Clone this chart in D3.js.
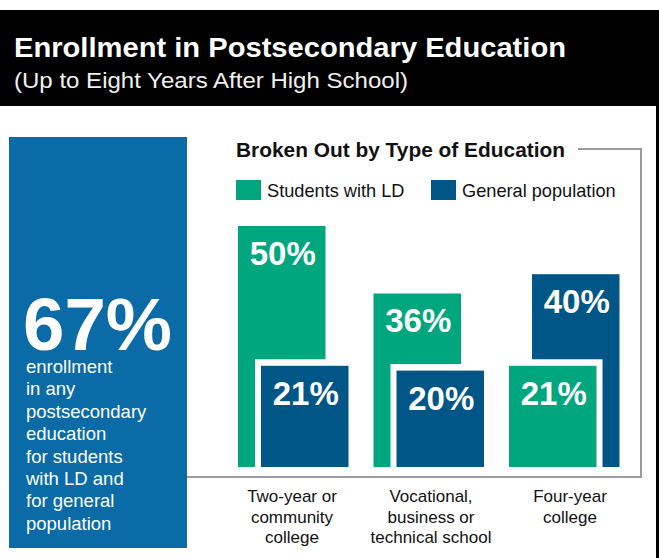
<!DOCTYPE html>
<html><head><meta charset="utf-8">
<script src="https://cdn.jsdelivr.net/npm/d3@7"></script>
<style>
html,body{margin:0;padding:0;background:#fff;}
svg{display:block;font-family:"Liberation Sans",Arial,Helvetica,sans-serif;}
</style></head>
<body><svg id="c" width="659" height="558"></svg>
<script>
// ---- data ----
const categories = ["Two-year or community college", "Vocational, business or technical school", "Four-year college"];
const categoryLines = [["Two-year or","community","college"],["Vocational,","business or","technical school"],["Four-year","college"]];
const seriesNames = ["Students with LD", "General population"];
const ldValues = [50, 36, 21];
const genValues = [21, 20, 40];
const overallValue = 67;
const overallLines = ["enrollment","in any","postsecondary","education","for students","with LD and","for general","population"];
const titleText = "Enrollment in Postsecondary Education";
const subtitleText = "(Up to Eight Years After High School)";
const sectionTitle = "Broken Out by Type of Education";

const GREEN = "#00a67d", BLUE = "#005686", PANEL = "#0a6ba6";

const svg = d3.select("#c");

// title band
svg.append("rect").attr("x",0).attr("y",10).attr("width",659).attr("height",96).attr("fill","#000");
svg.append("rect").attr("x",656).attr("y",106).attr("width",3).attr("height",452).attr("fill","#000");
svg.append("text").attr("x",14).attr("y",57).attr("fill","#fff").attr("font-weight","bold")
  .attr("font-size",28).attr("textLength",552).attr("lengthAdjust","spacingAndGlyphs").text(titleText);
svg.append("text").attr("x",14).attr("y",88).attr("fill","#f0f0f0")
  .attr("font-size",22).attr("textLength",394).attr("lengthAdjust","spacingAndGlyphs").text(subtitleText);

// left panel
svg.append("rect").attr("x",9).attr("y",137).attr("width",178).attr("height",411).attr("fill",PANEL);
svg.append("text").attr("x",23).attr("y",350).attr("fill","#fff").attr("font-weight","bold")
  .attr("font-size",75).attr("textLength",149).attr("lengthAdjust","spacingAndGlyphs").text(overallValue + "%");
svg.append("g").selectAll("text").data(overallLines).join("text")
  .attr("x",26).attr("y",(d,i)=>373 + i*22.4).attr("fill","#fff").attr("font-size",18.5).text(d=>d);

// connector line
svg.append("path").attr("d","M187,477H641V149H578").attr("fill","none").attr("stroke","#9c9c9c").attr("stroke-width",2);

// section title & legend
svg.append("text").attr("x",236).attr("y",157).attr("font-weight","bold").attr("font-size",19.5)
  .attr("fill","#111").attr("textLength",329).attr("lengthAdjust","spacingAndGlyphs").text(sectionTitle);
const legendX = [236, 431];
const legend = svg.append("g").selectAll("g").data(seriesNames).join("g")
  .attr("transform",(d,i)=>`translate(${legendX[i]},180)`);
legend.append("rect").attr("width",25).attr("height",20).attr("fill",(d,i)=>i===0?GREEN:BLUE);
legend.append("text").attr("x",31).attr("y",17).attr("font-size",18.2).attr("fill","#111").text(d=>d);

// scales
const y = d3.scaleLinear().domain([0, 50]).range([467, 226]);
const x = d3.scalePoint().domain(categories).range([293.5, 564.5]);
const xLabel = d3.scalePoint().domain(categories).range([292, 570]);
const barW = 87.5;
const offset = {ld: -55.5, gen: -32.5};

const data = categories.map((c,i)=>({cat:c, bars:[
  {key:"ld", v:ldValues[i], color:GREEN},
  {key:"gen", v:genValues[i], color:BLUE}
]}));

const groups = svg.append("g").selectAll("g").data(data).join("g");
groups.each(function(g){
  const sel = d3.select(this);
  const sorted = g.bars.slice().sort((a,b)=>b.v-a.v); // larger behind
  sorted.forEach((b,idx)=>{
    const bx = x(g.cat) + offset[b.key];
    const by = y(b.v);
    const h = y(0) - by;
    if(idx===1){
      sel.append("rect").attr("x",bx-6).attr("y",by-6.5).attr("width",barW+12).attr("height",h+6.5).attr("fill","#fff");
    }
    sel.append("rect").attr("x",bx).attr("y",by).attr("width",barW).attr("height",h).attr("fill",b.color);
    sel.append("text").attr("x",bx+barW/2+1).attr("y",by+39).attr("text-anchor","middle")
      .attr("fill","#fff").attr("font-weight","bold").attr("font-size",33).text(b.v+"%");
  });
});

// category labels
const lab = svg.append("g").selectAll("text").data(categories).join("text")
  .attr("text-anchor","middle").attr("font-size",17).attr("fill","#111");
lab.each(function(c,i){
  d3.select(this).selectAll("tspan").data(categoryLines[i]).join("tspan")
    .attr("x",xLabel(c)).attr("y",(d,j)=>502 + j*20.7).text(d=>d);
});
</script></body></html>
